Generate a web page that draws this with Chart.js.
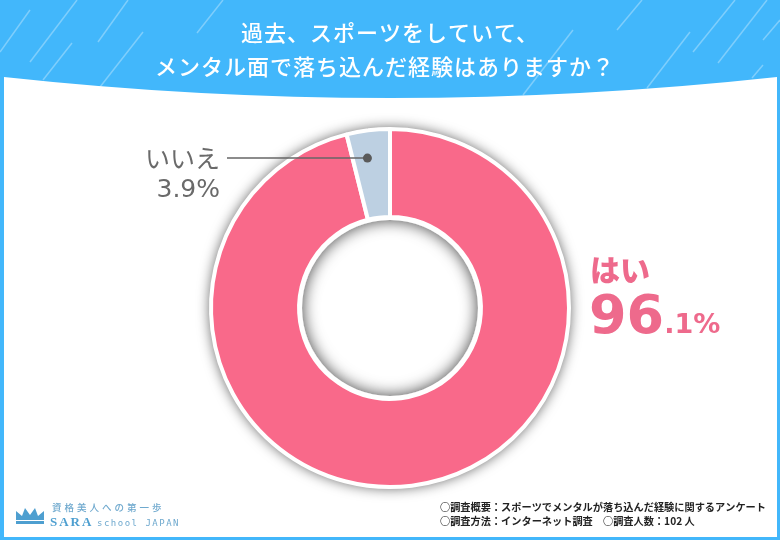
<!DOCTYPE html>
<html lang="ja">
<head>
<meta charset="utf-8">
<style>
  html, body { margin: 0; padding: 0; background: #fff; }
  #wrap { position: relative; width: 780px; height: 540px; }
</style>
<script src="https://cdn.jsdelivr.net/npm/chart.js@4"></script>
</head>
<body>
<div id="wrap"><canvas id="donut" width="780" height="540"></canvas></div>
<script>
const categories = ['はい', 'いいえ'];
const values = [96.1, 3.9];
const sliceColors = ['#F9698A', '#BDD0E2'];
const titleLines = ['過去、スポーツをしていて、', 'メンタル面で落ち込んだ経験はありますか？'];
const noteLines = ['○調査概要：スポーツでメンタルが落ち込んだ経験に関するアンケート', '○調査方法：インターネット調査　○調査人数：102 人'];

const JP = '"Noto Sans CJK JP", "Noto Sans", sans-serif';
const NUM = '"DejaVu Sans", sans-serif';
const BLUE = '#42B7FB';
const PINK = '#EE6A8C';
const GREY = '#6A6A6A';

// background streaks in the header
const streaks = [
    [0, 52, 30, 10], [30, 62, 77, 0], [43, 80, 72, 43], [98, 42, 128, 0], [100, 87, 143, 32], [197, 33, 223, 0],
    [617, 30, 642, 0], [523, 95, 573, 30], [647, 88, 690, 32], [693, 52, 735, 0], [718, 63, 767, 0], [752, 78, 763, 65], [763, 40, 780, 20]
];

function drawText(ctx, text, x, y, font, color, align) {
    ctx.font = font;
    ctx.fillStyle = color;
    ctx.textAlign = align || 'left';
    ctx.textBaseline = 'alphabetic';
    ctx.fillText(text, x, y);
}

function drawCrown(ctx) {
    ctx.fillStyle = '#4E9FD0';
    ctx.beginPath();
    ctx.moveTo(16, 520);
    ctx.lineTo(16, 511);
    ctx.lineTo(22, 516);
    ctx.lineTo(25, 508);
    ctx.lineTo(30, 515);
    ctx.lineTo(35, 508);
    ctx.lineTo(38, 516);
    ctx.lineTo(44, 511);
    ctx.lineTo(44, 520);
    ctx.closePath();
    ctx.fill();
    ctx.fillRect(16, 521, 28, 3);
}

const backdrop = {
    id: 'backdrop',
    beforeDraw(chart) {
        const ctx = chart.ctx;
        ctx.save();
        ctx.fillStyle = BLUE;
        ctx.fillRect(0, 0, 780, 540);

        ctx.strokeStyle = 'rgba(255,255,255,0.32)';
        ctx.lineWidth = 1.5;
        streaks.forEach(s => {
            ctx.beginPath();
            ctx.moveTo(s[0], s[1]);
            ctx.lineTo(s[2], s[3]);
            ctx.stroke();
        });

        // white panel with the curved top edge
        ctx.fillStyle = '#fff';
        ctx.beginPath();
        ctx.moveTo(4, 77);
        ctx.quadraticCurveTo(390, 119, 777, 77);
        ctx.lineTo(777, 537);
        ctx.lineTo(4, 537);
        ctx.closePath();
        ctx.fill();

        ctx.letterSpacing = '1px';
        drawText(ctx, titleLines[0], 390, 41, '500 22px ' + JP, '#fff', 'center');
        drawText(ctx, titleLines[1], 385, 75, '500 22px ' + JP, '#fff', 'center');
        ctx.letterSpacing = '0px';
        ctx.restore();
    },
    beforeDatasetsDraw(chart) {
        // soft shadow around the ring
        const ctx = chart.ctx;
        const p = chart.getDatasetMeta(0).data[0].getProps(['x', 'y', 'outerRadius']);
        ctx.save();
        ctx.shadowColor = 'rgba(0,0,0,0.65)';
        ctx.shadowBlur = 13;
        ctx.fillStyle = '#fff';
        ctx.beginPath();
        ctx.arc(p.x, p.y, p.outerRadius + 1, 0, Math.PI * 2);
        ctx.fill();
        ctx.restore();
    },
    afterDatasetsDraw(chart) {
        const ctx = chart.ctx;
        ctx.save();

        const arc = chart.getDatasetMeta(0).data[1];
        const p = arc.getProps(['x', 'y', 'startAngle', 'endAngle', 'outerRadius', 'innerRadius']);

        // inner shadow in the hole
        const holeR = p.innerRadius - 3;
        ctx.save();
        ctx.beginPath();
        ctx.arc(p.x, p.y, holeR, 0, Math.PI * 2);
        ctx.clip();
        ctx.shadowColor = 'rgba(0,0,0,0.75)';
        ctx.shadowBlur = 16;
        ctx.strokeStyle = '#fff';
        ctx.lineWidth = 20;
        ctx.beginPath();
        ctx.arc(p.x, p.y, holeR + 10, 0, Math.PI * 2);
        ctx.stroke();
        ctx.restore();

        // leader from the small slice to its label
        const ang = p.startAngle + (p.endAngle - p.startAngle) * 0.39;
        const dx = p.x + Math.cos(ang) * p.outerRadius * 0.847;
        const dy = p.y + Math.sin(ang) * p.outerRadius * 0.847;
        ctx.strokeStyle = '#666';
        ctx.lineWidth = 1.5;
        ctx.beginPath();
        ctx.moveTo(227, dy);
        ctx.lineTo(dx, dy);
        ctx.stroke();
        ctx.fillStyle = '#5A5A5A';
        ctx.beginPath();
        ctx.arc(dx, dy, 4.5, 0, Math.PI * 2);
        ctx.fill();

        // slice labels
        drawText(ctx, categories[1], 220, 168, '25px ' + JP, GREY, 'right');
        drawText(ctx, values[1].toFixed(1) + '%', 220, 197, '25px ' + NUM, GREY, 'right');

        drawText(ctx, categories[0], 590, 281, '900 30px ' + JP, PINK);
        const whole = String(Math.floor(values[0]));
        const rest = '.' + values[0].toFixed(1).split('.')[1] + '%';
        drawText(ctx, whole, 589, 333, 'bold 54px ' + NUM, PINK);
        const w = ctx.measureText(whole).width;
        drawText(ctx, rest, 589 + w, 333, 'bold 27px ' + NUM, PINK);

        // survey notes
        drawText(ctx, noteLines[0], 440, 511, 'bold 10.2px ' + JP, '#222');
        drawText(ctx, noteLines[1], 440, 525, 'bold 10.2px ' + JP, '#222');

        // logo
        drawCrown(ctx);
        ctx.letterSpacing = '3px';
        drawText(ctx, '資格美人への第一歩', 52, 511, '500 9.5px ' + JP, '#6FA9CE');
        ctx.letterSpacing = '2px';
        drawText(ctx, 'SARA', 50, 526, 'bold 13px "Liberation Serif", serif', '#4E9FD0');
        ctx.letterSpacing = '1.5px';
        drawText(ctx, 'school JAPAN', 97, 526, '9px "DejaVu Sans Mono", monospace', '#6FA9CE');
        ctx.letterSpacing = '0px';
        ctx.restore();
    }
};

new Chart(document.getElementById('donut'), {
    type: 'doughnut',
    data: {
        labels: categories,
        datasets: [{
            data: values,
            backgroundColor: sliceColors,
            borderColor: '#fff',
            borderWidth: 4,
            hoverOffset: 0
        }]
    },
    options: {
        responsive: false,
        animation: false,
        cutout: '50.8%',
        layout: { padding: { top: 127, bottom: 51, left: 209, right: 209 } },
        plugins: {
            legend: { display: false },
            tooltip: { enabled: false }
        }
    },
    plugins: [backdrop]
});
</script>
</body>
</html>
